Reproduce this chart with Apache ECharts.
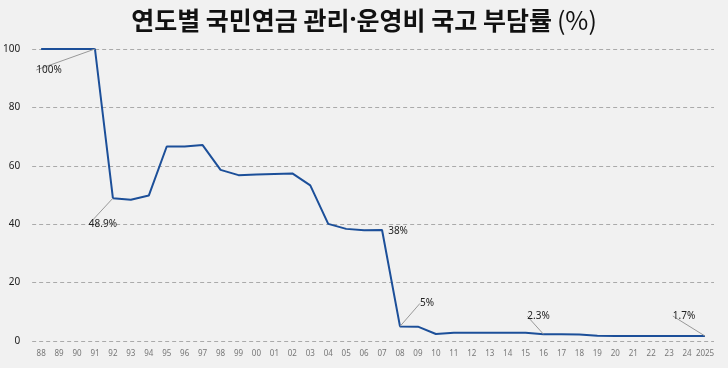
<!DOCTYPE html>
<html>
<head>
<meta charset="utf-8">
<script src="https://cdn.jsdelivr.net/npm/echarts@6/dist/echarts.min.js"></script>
<style>
  html, body { margin: 0; padding: 0; }
  #main { width: 728px; height: 368px; }
</style>
</head>
<body>
<div id="main"></div>
<script>
// 연도 (x축)
var years = ['88','89','90','91','92','93','94','95','96','97','98','99',
  '00','01','02','03','04','05','06','07','08','09','10','11','12','13','14',
  '15','16','17','18','19','20','21','22','23','24','2025'];
// 국고 부담률 (%)
var rates = [100,100,100,100,48.9,48.4,49.8,66.6,66.6,67.1,58.6,56.8,
  57.0,57.2,57.4,53.3,40.1,38.4,37.9,38,5,4.9,2.4,2.8,2.8,2.8,2.8,
  2.8,2.3,2.3,2.2,1.8,1.7,1.7,1.7,1.7,1.7,1.7];
// 데이터 라벨
var labelText = {3:'100%', 4:'48.9%', 19:'38%', 20:'5%', 28:'2.3%', 37:'1.7%'};
var labelMove = {3:[-46,21], 4:[-10,26], 19:[16,1], 20:[27,-23], 28:[-5,-18], 37:[-21,-20]};

var seriesData = rates.map(function(v, i){
  if(labelText[i]){
    return {value: v, label: {show: true, formatter: labelText[i]},
            labelLine: {show: i !== 19}};
  }
  return {value: v};
});

var myChart = echarts.init(document.getElementById('main'));
var option = {
  backgroundColor: '#f1f1f1',
  animation: false,
  title: {
    text: '{b|연도별 국민연금 관리}{d|·}{b|운영비 국고 부담률} {n|(%)}',
    left: 'center',
    top: 3,
    textStyle: {
      rich: {
        b: {fontFamily: 'Noto Sans CJK KR', fontWeight: 'bold', fontSize: 25, color: '#111'},
        d: {fontFamily: 'Noto Sans', fontWeight: 'bold', fontSize: 25, color: '#111'},
        n: {fontFamily: 'Noto Sans CJK KR', fontWeight: 'normal', fontSize: 25, color: '#111'}
      }
    }
  },
  grid: {left: 30, right: 14, top: 49, bottom: 27},
  xAxis: {
    type: 'category',
    data: years,
    boundaryGap: true,
    axisLine: {show: false},
    axisTick: {show: false},
    axisLabel: {interval: 0, fontSize: 8, color: '#777', fontFamily: 'Noto Sans', margin: 9}
  },
  yAxis: {
    type: 'value',
    min: 0, max: 100, interval: 20,
    axisLabel: {fontSize: 10, color: '#222', fontFamily: 'Noto Sans', margin: 12},
    splitLine: {lineStyle: {type: [4, 3], color: '#aaa', width: 1}}
  },
  series: [{
    type: 'line',
    data: seriesData,
    symbol: 'circle',
    symbolSize: 0,
    showSymbol: true,
    lineStyle: {color: '#1c4f99', width: 2},
    itemStyle: {color: '#1c4f99'},
    label: {show: false, position: 'inside', fontSize: 10, color: '#222', fontFamily: 'Noto Sans'},
    labelLine: {lineStyle: {color: '#999', width: 1}},
    labelLayout: function(params){
      var m = labelMove[params.dataIndex];
      if(!m) return {};
      return {dx: m[0], dy: m[1]};
    }
  }]
};
myChart.setOption(option);
</script>
</body>
</html>
